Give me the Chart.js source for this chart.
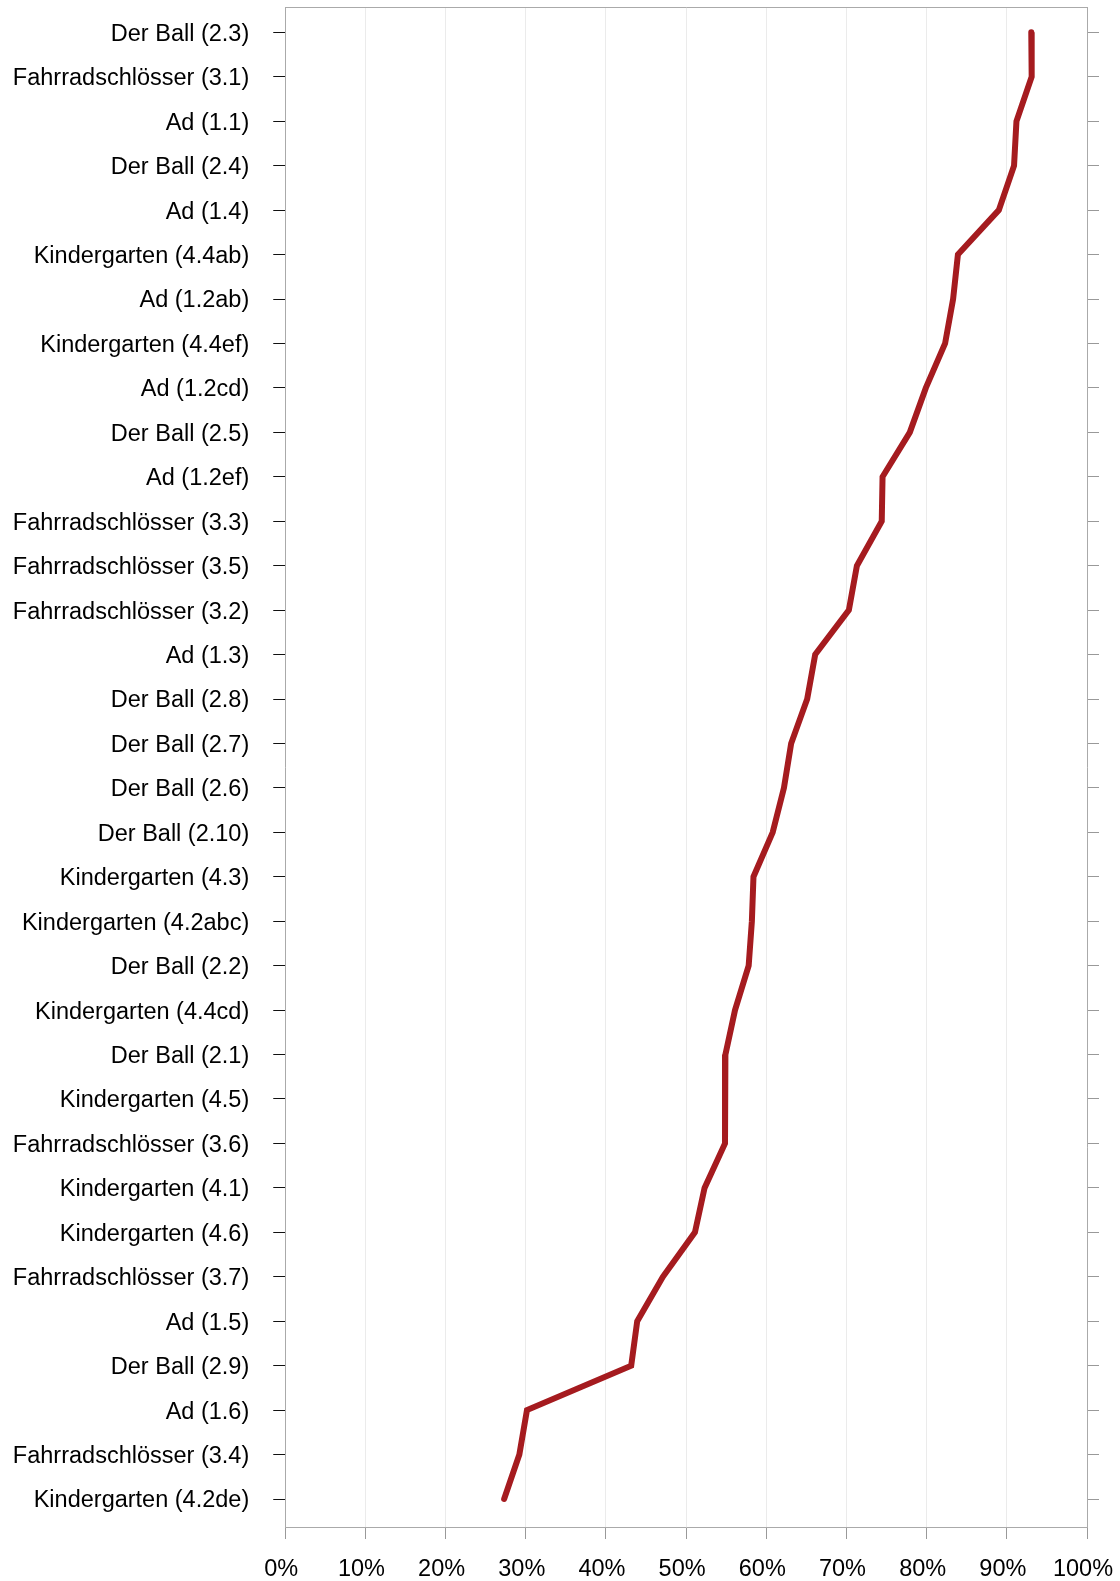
<!DOCTYPE html>
<html>
<head>
<meta charset="utf-8">
<script src="https://cdn.jsdelivr.net/npm/chart.js@4/dist/chart.umd.min.js"></script>
<style>
  html, body { margin: 0; padding: 0; background: #fff; }
  #wrap { width: 1120px; height: 1581px; position: relative; }
</style>
</head>
<body>
<div id="wrap"><canvas id="chart"></canvas></div>
<script>
// categories, top to bottom
const items = [
  "Der Ball (2.3)", "Fahrradschlösser (3.1)", "Ad (1.1)", "Der Ball (2.4)", "Ad (1.4)",
  "Kindergarten (4.4ab)", "Ad (1.2ab)", "Kindergarten (4.4ef)", "Ad (1.2cd)", "Der Ball (2.5)",
  "Ad (1.2ef)", "Fahrradschlösser (3.3)", "Fahrradschlösser (3.5)", "Fahrradschlösser (3.2)", "Ad (1.3)",
  "Der Ball (2.8)", "Der Ball (2.7)", "Der Ball (2.6)", "Der Ball (2.10)", "Kindergarten (4.3)",
  "Kindergarten (4.2abc)", "Der Ball (2.2)", "Kindergarten (4.4cd)", "Der Ball (2.1)", "Kindergarten (4.5)",
  "Fahrradschlösser (3.6)", "Kindergarten (4.1)", "Kindergarten (4.6)", "Fahrradschlösser (3.7)", "Ad (1.5)",
  "Der Ball (2.9)", "Ad (1.6)", "Fahrradschlösser (3.4)", "Kindergarten (4.2de)"
];

// percent values, same order
const percent = [
  93.05, 93.1, 91.2, 90.9, 89.0,
  83.9, 83.3, 82.3, 79.9, 77.9,
  74.5, 74.4, 71.3, 70.3, 66.1,
  65.1, 63.1, 62.2, 60.8, 58.4,
  58.2, 57.8, 56.1, 54.9, 54.85,
  54.85, 52.3, 51.1, 47.1, 43.9,
  43.15, 30.15, 29.2, 27.3
];

const xTicks = [0, 10, 20, 30, 40, 50, 60, 70, 80, 90, 100];

const font = { family: "'Liberation Sans', Arial, sans-serif", size: 23.5 };
const yMin = -0.57, yMax = items.length - 1 + 0.63;

function catTicks(scale){
  scale.ticks = items.map((_, i) => ({ value: i }));
}

// labels may hang over the plot edges, like the original
function noEdgePad(scale){
  scale.paddingTop = 0;
  scale.paddingBottom = 0;
  scale.paddingLeft = 0;
  scale.paddingRight = 0;
}

const ctx = document.getElementById("chart").getContext("2d");
new Chart(ctx, {
  type: "line",
  data: {
    datasets: [{
      data: percent.map((v, i) => ({ x: v, y: i })),
      borderColor: "#a51b1f",
      borderWidth: 6,
      borderCapStyle: "round",
      pointRadius: 0,
      tension: 0,
      yAxisID: "y",
      xAxisID: "x"
    }]
  },
  options: {
    responsive: true,
    maintainAspectRatio: false,
    animation: false,
    layout: { padding: { left: 14, right: 21, top: 7, bottom: 0 } },
    plugins: { legend: { display: false }, tooltip: { enabled: false } },
    scales: {
      x: {
        type: "linear",
        position: "bottom",
        min: 0, max: 100,
        afterBuildTicks: s => { s.ticks = xTicks.map(v => ({ value: v })); },
        afterFit: s => { noEdgePad(s); s.height = 54; },
        ticks: { font, color: "#000", padding: 16, labelOffset: -4, maxRotation: 0, callback: v => v + "%" },
        grid: { color: "#ebebeb", lineWidth: 1, tickColor: "#999", tickLength: 12 },
        border: { color: "#aaa", width: 1 }
      },
      x2: {
        type: "linear",
        position: "top",
        min: 0, max: 100,
        afterFit: noEdgePad,
        ticks: { display: false },
        grid: { display: false, drawTicks: false },
        border: { color: "#aaa", width: 1 }
      },
      y: {
        type: "linear",
        position: "left",
        reverse: true,
        min: yMin, max: yMax,
        afterBuildTicks: catTicks,
        afterFit: noEdgePad,
        ticks: { font, color: "#000", padding: 24, labelOffset: 2, callback: v => items[v] },
        grid: { drawOnChartArea: false, tickColor: "#111", tickLength: 12 },
        border: { color: "#aaa", width: 1 }
      },
      y2: {
        type: "linear",
        position: "right",
        reverse: true,
        min: yMin, max: yMax,
        afterBuildTicks: catTicks,
        afterFit: noEdgePad,
        ticks: { font, padding: 0, callback: () => "" },
        grid: { drawOnChartArea: false, tickColor: "#999", tickLength: 12 },
        border: { color: "#aaa", width: 1 }
      }
    }
  }
});
</script>
</body>
</html>
